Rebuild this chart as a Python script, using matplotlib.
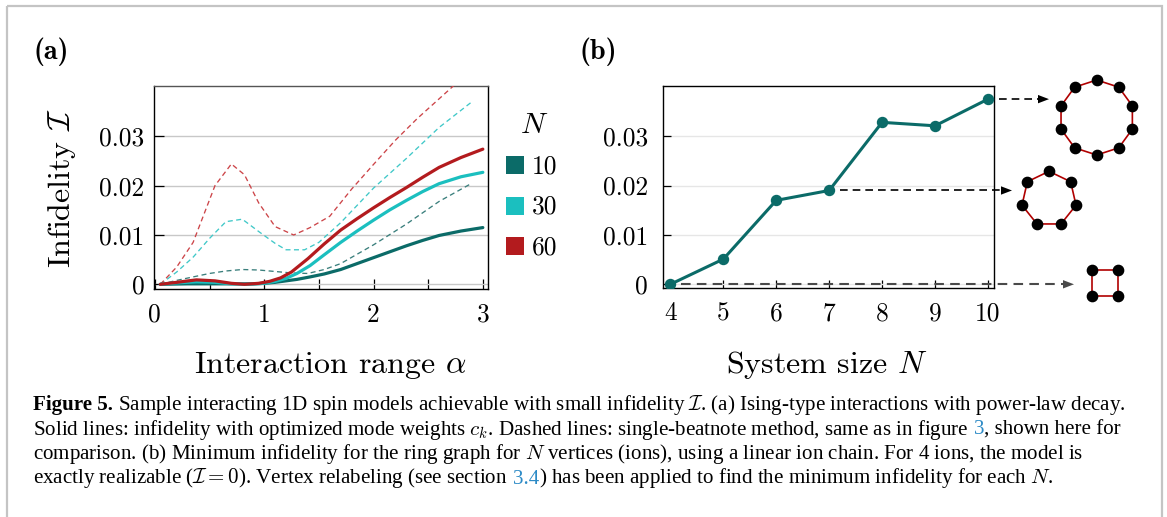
import numpy as np
import matplotlib
matplotlib.use('Agg')
import matplotlib.pyplot as plt
from matplotlib.patches import Rectangle, Polygon

plt.rcParams['font.family'] = ['cmr10']
plt.rcParams['mathtext.fontset'] = 'cm'
plt.rcParams['axes.unicode_minus'] = False
plt.rcParams['axes.formatter.use_mathtext'] = True

# ---------------- data: panel (a) ----------------
N_a = [10, 30, 60]
colors_a = ['#0b6b68', '#1bbfbf', '#b31b1e']
dash_colors_a = ['#3a7f7c', '#40c8c8', '#cc4448']

# optimized mode weights (solid)
alpha_opt_N10 = [0.05, 0.3, 0.6, 0.9, 1.0, 1.1, 1.2, 1.3, 1.42, 1.55, 1.7, 1.85, 2.0, 2.15, 2.3, 2.45, 2.6, 2.8, 3.0]
infid_opt_N10 = [0.0, 0.0001, 0.0001, 0.0001, 0.0002, 0.0004, 0.0007, 0.0010, 0.0015, 0.0021, 0.0030, 0.0042, 0.0054, 0.0066, 0.0078, 0.0089, 0.0099, 0.0108, 0.0115]
alpha_opt_N30 = [0.05, 0.2, 0.38, 0.55, 0.7, 0.85, 1.0, 1.1, 1.2, 1.3, 1.42, 1.55, 1.7, 1.85, 2.0, 2.15, 2.3, 2.45, 2.6, 2.8, 3.0]
infid_opt_N30 = [0.0, 0.0003, 0.0005, 0.0004, 0.0001, 0.0000, 0.0002, 0.0006, 0.0012, 0.0022, 0.0038, 0.0060, 0.0085, 0.0108, 0.0130, 0.0151, 0.0170, 0.0188, 0.0204, 0.0218, 0.0227]
alpha_opt_N60 = [0.05, 0.2, 0.38, 0.55, 0.7, 0.82, 0.95, 1.05, 1.15, 1.25, 1.4, 1.55, 1.7, 1.85, 2.0, 2.15, 2.3, 2.45, 2.6, 2.8, 3.0]
infid_opt_N60 = [0.0, 0.0004, 0.0009, 0.0007, 0.0002, 0.0000, 0.0002, 0.0006, 0.0013, 0.0025, 0.0052, 0.0082, 0.0110, 0.0133, 0.0155, 0.0176, 0.0196, 0.0217, 0.0237, 0.0257, 0.0274]

# single-beatnote method (dashed)
alpha_sb_N10 = [0.05, 0.2, 0.35, 0.5, 0.65, 0.8, 0.95, 1.1, 1.25, 1.4, 1.55, 1.7, 2.0, 2.3, 2.6, 2.9]
infid_sb_N10 = [0.0, 0.0008, 0.0015, 0.0022, 0.0027, 0.0030, 0.0029, 0.0026, 0.0023, 0.0022, 0.0030, 0.0042, 0.0080, 0.0122, 0.0168, 0.0205]
alpha_sb_N30 = [0.05, 0.2, 0.35, 0.5, 0.65, 0.8, 0.95, 1.1, 1.2, 1.37, 1.5, 1.7, 2.0, 2.3, 2.6, 2.9]
infid_sb_N30 = [0.0, 0.0025, 0.0055, 0.0093, 0.0127, 0.0132, 0.0107, 0.0083, 0.0070, 0.0070, 0.0085, 0.0125, 0.0195, 0.0255, 0.0318, 0.0370]
alpha_sb_N60 = [0.05, 0.2, 0.35, 0.55, 0.7, 0.82, 0.95, 1.1, 1.27, 1.42, 1.6, 1.8, 2.0, 2.2, 2.4, 2.6, 2.8, 2.9]
infid_sb_N60 = [0.0, 0.0035, 0.0085, 0.0200, 0.0244, 0.0222, 0.0165, 0.0117, 0.0100, 0.0115, 0.0138, 0.0193, 0.0243, 0.0292, 0.0336, 0.0376, 0.0416, 0.0436]

# ---------------- data: panel (b) ----------------
system_sizes = [4, 5, 6, 7, 8, 9, 10]
min_infidelity = [0.0000, 0.0051, 0.0170, 0.0190, 0.0328, 0.0321, 0.0375]
ring_examples = [10, 7, 4]

yticks = [0, 0.01, 0.02, 0.03]
ytick_labels = ['0', '0.01', '0.02', '0.03']
xticks_a = [0, 1, 2, 3]

W, H = 1167, 517
fig = plt.figure(figsize=(W / 100, H / 100), dpi=100)

def px_axes(l, t, r, b):
    return fig.add_axes([l / W, 1 - b / H, (r - l) / W, (b - t) / H])

TICK_FS = 18.3
LABEL_FS = 23

# ---------------- panel (a) ----------------
axa = px_axes(154.3, 86, 488.3, 289)
opt = [(alpha_opt_N10, infid_opt_N10), (alpha_opt_N30, infid_opt_N30), (alpha_opt_N60, infid_opt_N60)]
sb = [(alpha_sb_N10, infid_sb_N10), (alpha_sb_N30, infid_sb_N30), (alpha_sb_N60, infid_sb_N60)]
for (xs, ys), c in zip(sb, dash_colors_a):
    axa.plot(xs, ys, color=c, lw=0.95, ls=(0, (3.8, 2.6)), zorder=3)
for (xs, ys), c in zip(opt, colors_a):
    axa.plot(xs, ys, color=c, lw=2.3, zorder=4, solid_capstyle='round')
axa.set_xlim(-0.005, 3.05)
axa.set_ylim(-0.00095, 0.0402)
axa.set_yticks(yticks)
axa.set_yticklabels(ytick_labels)
axa.set_xticks(xticks_a)
axa.set_xticklabels([str(v) for v in xticks_a])
axa.set_xticks([0.5, 1.5, 2.5], minor=True)
axa.tick_params(axis='both', which='both', direction='in', length=7, width=0.9, labelsize=TICK_FS, colors='k')
axa.tick_params(axis='x', which='both', pad=10)
axa.tick_params(axis='y', pad=7)
axa.grid(axis='y', color='#c8c8c8', lw=1.0, zorder=0)
axa.set_axisbelow(True)
for s in axa.spines.values():
    s.set_linewidth(1.0)
axa.spines['top'].set_color('#555555')

# ---------------- panel (b) ----------------
axb = px_axes(663.3, 86.3, 994.3, 287.7)
teal = colors_a[0]
axb.plot(system_sizes, min_infidelity, color=teal, lw=2.2, marker='o', ms=7.2, zorder=4)
axb.set_xlim(3.866, 10.12)
axb.set_ylim(-0.00069, 0.0401)
axb.set_yticks(yticks)
axb.set_yticklabels(ytick_labels)
axb.set_xticks(system_sizes)
axb.set_xticklabels([str(v) for v in system_sizes])
axb.tick_params(axis='both', direction='in', length=6, width=0.9, labelsize=TICK_FS, colors='k')
axb.tick_params(axis='x', pad=10)
axb.tick_params(axis='y', pad=11)
axb.grid(axis='y', color='#e6e6e6', lw=1.0, zorder=0)
axb.set_axisbelow(True)
for s in axb.spines.values():
    s.set_linewidth(1.0)

# ---------------- overlay in figure pixels ----------------
ov = fig.add_axes([0, 0, 1, 1], zorder=10)
ov.set_xlim(0, W)
ov.set_ylim(H, 0)
ov.axis('off')

# frame
ov.add_patch(Rectangle((7, 6), 1155, 530, fill=False, ec='#c4c4c4', lw=1.6, clip_on=False))

# panel letters
ov.text(33, 58.5, '(a)', family='cmb10', fontsize=20.3, ha='left', va='baseline')
ov.text(579, 58.5, '(b)', family='cmb10', fontsize=20.3, ha='left', va='baseline')

# axis labels
ov.text(62, 188, r'Infidelity $\mathcal{I}$', rotation=90, fontsize=LABEL_FS, ha='center', va='center')
ov.text(330, 373, r'Interaction range $\alpha$', fontsize=LABEL_FS, ha='center', va='baseline')
ov.text(827, 373, r'System size $N$', fontsize=LABEL_FS, ha='center', va='baseline')

# legend of panel (a)
ov.text(534, 133, r'$N$', fontsize=21.5, ha='center', va='baseline')
for i, (n, c) in enumerate(zip(N_a, colors_a)):
    yc = 165 + 40.5 * i
    ov.add_patch(Rectangle((506, yc - 9), 18, 18, color=c, lw=0))
    ov.text(531.5, yc + 8.3, str(n), fontsize=TICK_FS, ha='left', va='baseline')

# ring graphs with arrows
ring_geom = {10: (1096.7, 117.5, 37.5, 90.0), 7: (1049.0, 199.0, 27.7, 90.0), 4: (1105.0, 283.2, 18.0, 45.0)}
arrow_tip = {10: 1049.0, 7: 1012.0, 4: 1074.0}
for n in ring_examples:
    cx, cy, r, a0 = ring_geom[n]
    ang = np.deg2rad(a0 + 360.0 / n * np.arange(n))
    vx = cx + r * np.cos(ang)
    vy = cy - r * np.sin(ang)
    ov.add_patch(Polygon(np.column_stack([vx, vy]), closed=True, fill=False, ec='#b00000', lw=1.2, zorder=2))
    ov.plot(vx, vy, 'o', color='k', ms=7.4, zorder=3)
    # arrow from data point
    idx = system_sizes.index(n)
    xd, yd = axb.transData.transform((system_sizes[idx], min_infidelity[idx]))
    y = H - yd
    x0 = xd + 11
    tip = arrow_tip[n]
    col = '#4a4a4a' if n == 4 else 'k'
    lw = 1.5 if n == 4 else 1.2
    ov.plot([x0, tip - 8], [y, y], color=col, lw=lw, ls=(0, (4.6, 3.0)), zorder=5)
    ov.add_patch(Polygon([[tip, y], [tip - 11, y - 4.2], [tip - 11, y + 4.2]], closed=True, color=col, lw=0, zorder=5))

# ---------------- caption ----------------
renderer = fig.canvas.get_renderer()
CAP_FAMILY = ['Liberation Serif', 'DejaVu Serif']
blue = '#2b8ac6'

# each segment: (text, options); 'nospace' = no space before the segment
lines = [
    [("Figure 5.", dict(weight='bold')), (r"Sample interacting 1D spin models achievable with small infidelity $\mathcal{I}$. (a) Ising-type interactions with power-law decay.", {})],
    [(r"Solid lines: infidelity with optimized mode weights $c_k$. Dashed lines: single-beatnote method, same as in figure", {}), ("3", dict(color=blue)), (", shown here for", dict(nospace=True))],
    [(r"comparison. (b) Minimum infidelity for the ring graph for $N$ vertices (ions), using a linear ion chain. For 4 ions, the model is", {})],
    [(r"exactly realizable ($\mathcal{I}=0$). Vertex relabeling (see section", {}), ("3.4", dict(color=blue)), (r") has been applied to find the minimum infidelity for each $N$.", dict(nospace=True))],
]


def measure(txt, size, **kw):
    t = ov.text(0, 0, txt, fontsize=size, family=CAP_FAMILY, **kw)
    w = t.get_window_extent(renderer).width
    t.remove()
    return w


def line_width(segs, size):
    total = 0
    sp = measure('a a', size) - measure('aa', size)
    for i, (txt, kw) in enumerate(segs):
        kk = {k: v for k, v in kw.items() if k in ('weight',)}
        if i > 0 and not kw.get('nospace'):
            total += sp
        total += measure(txt, size, **kk)
    return total


s0 = 14.0
w0 = line_width(lines[0], s0)
cap_size = s0 * 1094.0 / w0

sp = measure('a a', cap_size) - measure('aa', cap_size)
baselines = [410, 434.5, 459, 483.5]
for segs, yb in zip(lines, baselines):
    x = 33.0
    for i, (txt, kw) in enumerate(segs):
        if i > 0 and not kw.get('nospace'):
            x += sp
        kk = {k: v for k, v in kw.items() if k in ('weight', 'color')}
        t = ov.text(x, yb, txt, fontsize=cap_size, family=CAP_FAMILY, ha='left', va='baseline', **kk)
        x += t.get_window_extent(renderer).width

fig.savefig('out.png', dpi=100)
